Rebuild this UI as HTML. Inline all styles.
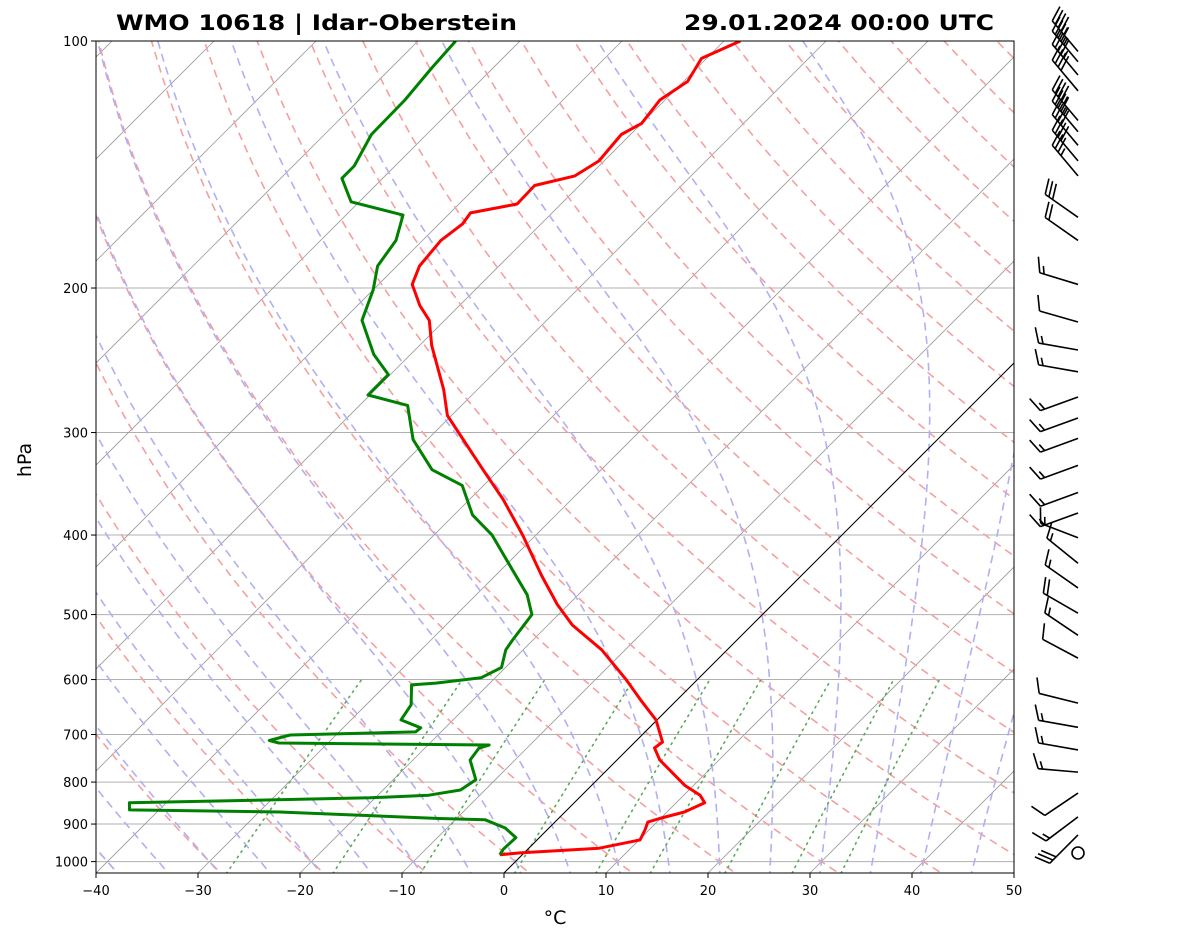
<!DOCTYPE html>
<html><head><meta charset="utf-8"><style>
body{margin:0;background:#fff;}
text{font-family:"DejaVu Sans","Liberation Sans",sans-serif;}
</style></head><body>
<svg id="chart" width="1181" height="941" xmlns="http://www.w3.org/2000/svg">
<defs><clipPath id="clip"><rect x="96" y="41" width="918" height="832"/></clipPath></defs>
<rect width="1181" height="941" fill="#fff"/>
<g id="bg" clip-path="url(#clip)"></g>
<g id="series" clip-path="url(#clip)"></g>
<rect x="96" y="41" width="918" height="832" fill="none" stroke="#000" stroke-width="1"/>
<g id="axes"></g>
<g id="barbs"></g>
<text x="116" y="30" font-size="21" font-weight="bold" textLength="401" lengthAdjust="spacingAndGlyphs">WMO 10618 | Idar-Oberstein</text>
<text x="684" y="30" font-size="21" font-weight="bold" textLength="310" lengthAdjust="spacingAndGlyphs">29.01.2024 00:00 UTC</text>
<text x="555" y="924" font-size="19" text-anchor="middle">°C</text>
<text x="31" y="460" font-size="19" text-anchor="middle" transform="rotate(-90 31 460)">hPa</text>
</svg>
<script>
const xTicks=[-40,-30,-20,-10,0,10,20,30,40,50];
const pTicks=[100,200,300,400,500,600,700,800,900,1000];
const tempP=[981,976,963,941,915,895,886,870,848,830,807,752,727,715,672,635,601,552,515,486,448,400,362,333,286,266,235,219,210,198,188,175,167,162,158,150,146,140,130,126,118,112,105,100];
const tempT=[-2.2,-0.4,6.9,10.1,9.6,9.1,9.9,11.7,12.8,11.6,9.1,4.2,2.5,2.7,-0.1,-3.6,-6.9,-12.3,-17.6,-21.1,-25.5,-31.3,-36.7,-41.6,-50.4,-53.3,-58.8,-61.5,-63.9,-66.7,-67.8,-68.2,-67.7,-68,-64.3,-64.4,-61.4,-60.5,-60.9,-60,-60.5,-59.6,-60.5,-58.4];
const dewP=[981,966,935,910,889,886,870,865,848,836,830,818,795,752,727,721,717,712,701,695,687,672,644,609,606,597,580,552,537,500,473,441,400,378,348,333,306,278,270,255,241,219,201,188,175,163,157,147,142,130,118,108,100];
const dewT=[-2.2,-2.4,-2.3,-4.3,-7.1,-11.7,-28,-42.9,-43.6,-20.5,-15,-12.4,-11.9,-14.4,-14.7,-14,-34.8,-36,-34.5,-22.5,-22.4,-25.1,-25.6,-27.5,-25.3,-21.4,-20.4,-21.7,-22,-22.6,-25,-28.9,-34.3,-38.2,-42.1,-46.6,-51.4,-55.3,-60.2,-60.2,-63.6,-68.1,-70,-71.9,-72.6,-74.4,-80.8,-84,-84,-85.4,-85.5,-86,-86.3];
const barbP=[103,106,110,115,125,129,134,140,146,164,175,198,220,238,253,271.5,288,305,329,355,376,403,433,464,498,530,565,641,686,731,778,825,882,928];
const barbDir=[320,320,320,320,320,320,320,320,320,305,305,287,286,280,280,250,250,250,250,250,250,291,309,305,300,304,298,284,280,280,275,236,233,225];
const barbSpd=[45,45,45,40,45,45,40,40,35,30,20,15,10,15,15,15,15,15,15,15,15,15,15,15,20,15,10,10,15,15,15,10,15,30];
const dryT0=[-70,-60,-50,-40,-30,-20,-10,0,10,20,30,40,50,60,70,80,90,100,110,120,130,140,150,160,170,180,190,200];
const moistT0=[-45,-40,-35,-30,-25,-20,-15,-10,-5,0,5,10,15,20,25,30,35,40,45,50];
const mixW=[0.0004,0.001,0.002,0.004,0.007,0.01,0.016,0.024,0.032];
const isoT=[-130,-120,-110,-100,-90,-80,-70,-60,-50,-40,-30,-20,-10,0,10,20,30,40,50];

const NS="http://www.w3.org/2000/svg";
const yOf=p=>41+820.6*Math.log10(p/100);
const xOf=(T,p)=>504+10.2*T+(873-yOf(p))*1.0;
function mk(tag,attrs,parent){const e=document.createElementNS(NS,tag);for(const k in attrs)e.setAttribute(k,attrs[k]);parent.appendChild(e);return e;}
const bg=document.getElementById('bg'),se=document.getElementById('series'),ax=document.getElementById('axes'),bb=document.getElementById('barbs');
function path(pts){return pts.map((q,i)=>(i?'L':'M')+q[0].toFixed(1)+' '+q[1].toFixed(1)).join('');}
pTicks.forEach(p=>{const l=mk('line',{x1:96,x2:1014,y1:yOf(p),y2:yOf(p),stroke:'#b0b0b0','stroke-width':1},bg);

});
isoT.forEach(T=>{const l=mk('line',{x1:xOf(T,1050),y1:yOf(1050),x2:xOf(T,90),y2:yOf(90),stroke:'#999','stroke-width':0.8},bg);

});
dryT0.forEach(t=>{const pts=[];for(let p=1050;p>=95;p-=10){const T=(t+273.15)*Math.pow(p/1000,0.2857)-273.15;pts.push([xOf(T,p),yOf(p)]);}
const e=mk('path',{d:path(pts),fill:'none',stroke:'#f4a0a0','stroke-width':1.6,'stroke-dasharray':'8,5.5'},bg);

});
const Rd=287.04,Cp=1005.7,Lv=2.501e6,eps=0.622;
function dTdp(T,p){const tc=T-273.15;const es=6.112*Math.exp(17.67*tc/(tc+243.5));const rs=eps*es/(p-es);return (Rd*T+Lv*rs)/(Cp+Lv*Lv*rs*eps/(Rd*T*T))/p;}
function integ(T,p0,p1,dp){const out=[[p0,T]];let p=p0;const s=p1>p0?dp:-dp;while((s<0&&p>p1)||(s>0&&p<p1)){const k1=dTdp(T,p);const k2=dTdp(T+k1*s/2,p+s/2);T+=k2*s;p+=s;out.push([p,T]);}return out;}
moistT0.forEach(t=>{const up=integ(t+273.15,1000,95,2);const dn=integ(t+273.15,1000,1050,2).reverse();const all=dn.concat(up.slice(1));
const e=mk('path',{d:path(all.map(q=>[xOf(q[1]-273.15,q[0]),yOf(q[0])])),fill:'none',stroke:'#b0b0f2','stroke-width':1.6,'stroke-dasharray':'8,5.5'},bg);

});
mixW.forEach(w=>{const pts=[];for(let p=1050;p>=600;p-=10){const e=p*w/(eps+w);const l=Math.log(e/6.112);const Td=243.5*l/(17.67-l);pts.push([xOf(Td,p),yOf(p)]);}
const e=mk('path',{d:path(pts),fill:'none',stroke:'#5aa85a','stroke-width':1.6,'stroke-dasharray':'1.5,5','stroke-linecap':'round'},bg);

});
const z=mk('line',{x1:xOf(0,1050),y1:yOf(1050),x2:xOf(0,90),y2:yOf(90),stroke:'#000','stroke-width':1},bg);


const tp=mk('path',{d:path(tempP.map((p,i)=>[xOf(tempT[i],p),yOf(p)])),fill:'none',stroke:'#ff0000','stroke-width':3,'stroke-linejoin':'round'},se);


const dp=mk('path',{d:path(dewP.map((p,i)=>[xOf(dewT[i],p),yOf(p)])),fill:'none',stroke:'#008000','stroke-width':3,'stroke-linejoin':'round'},se);


xTicks.forEach(t=>{const x=96+(t+40)*10.2;mk('line',{x1:x,x2:x,y1:873,y2:878,stroke:'#000'},ax);
const tx=mk('text',{x:x,y:895,'font-size':13,'text-anchor':'middle'},ax);tx.textContent=(t<0?'\u2212'+(-t):t);

});
pTicks.forEach(p=>{const y=yOf(p);mk('line',{x1:91,x2:96,y1:y,y2:y,stroke:'#000'},ax);
const tx=mk('text',{x:88,y:y+5,'font-size':13,'text-anchor':'end'},ax);tx.textContent=p;

});
barbP.forEach((p,i)=>{const y=yOf(p),x=1078,d=barbDir[i]*Math.PI/180,L=40;
const sx=Math.sin(d),sy=-Math.cos(d);const ex=x+sx*L,ey=y+sy*L;const px=-sy,py=sx;
const g=mk('g',{stroke:'#000','stroke-width':1.6,fill:'none'},bb);


mk('line',{x1:x,y1:y,x2:ex,y2:ey},g);
let s=barbSpd[i],pos=0;const fl=15;
while(s>=10){const bx=ex-sx*pos,by=ey-sy*pos;mk('line',{x1:bx,y1:by,x2:bx+px*fl+sx*6,y2:by+py*fl+sy*6},g);pos+=4.5;s-=10;}
if(s>=5){if(pos===0)pos=5;const bx=ex-sx*pos,by=ey-sy*pos;mk('line',{x1:bx,y1:by,x2:bx+px*fl/2+sx*3,y2:by+py*fl/2+sy*3},g);}
});
const c=mk('circle',{cx:1078,cy:853,r:6,fill:'none',stroke:'#000','stroke-width':1.6},bb);


</script>
</body></html>
